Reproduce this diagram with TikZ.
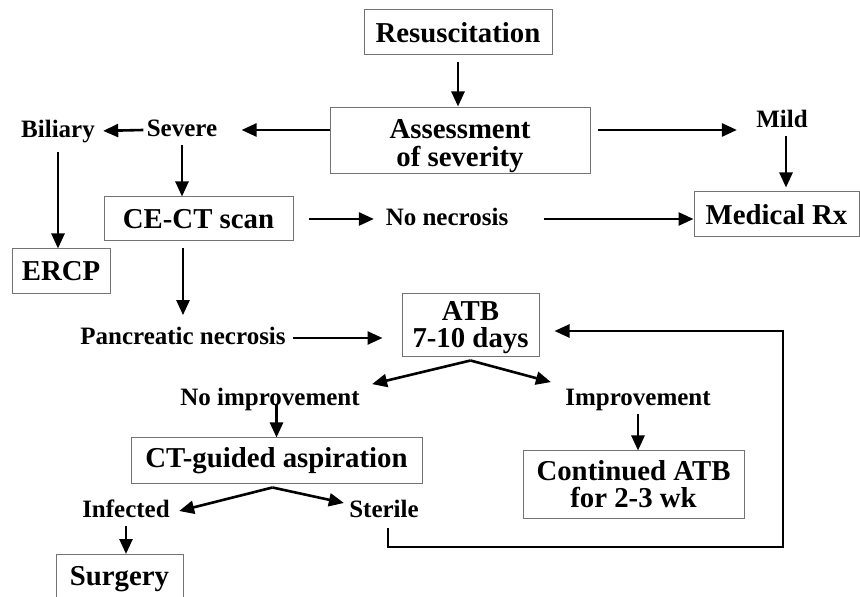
\documentclass[tikz,border=0pt]{standalone}
\usepackage{fontspec}
\setmainfont{Liberation Serif}
\usepackage{tikz}
\usetikzlibrary{arrows.meta,positioning}
\tikzset{>={Triangle[length=7.5pt,width=6.5pt]},
	every join/.style={->}}
\tikzstyle{box}=[draw=black!55, line width=0.5pt, align=center,
inner sep=0pt, font=\fontsize{14.4}{13.6}\selectfont\bfseries]
\tikzstyle{lbl}=[inner sep=1.5pt, text height=9pt, text depth=2.5pt,
font=\fontsize{12.5}{14}\selectfont\bfseries]
\tikzstyle{flow}=[->, line width=1.3pt]
\newcommand{\lift}[1]{\rule{0pt}{#1}}

\begin{document}
\begin{tikzpicture}[x=0.5pt,y=-0.5pt]
	\clip (0,0) rectangle (860,597);
	% boxes
	\node[box, minimum width=94pt, minimum height=22.5pt] (resus) at (458,32.5) {Resuscitation};
	\node[box, minimum width=130pt, minimum height=33pt] (assess) at (460,141) {\lift{14.6pt}Assessment\\of severity};
	\node[box, minimum width=82.5pt, minimum height=22.5pt] (medrx) at (776.5,214.5) {Medical Rx};
	\node[box, minimum width=94.5pt, minimum height=22pt] (cect) at (198.5,219) {CE-CT scan};
	\node[box, minimum width=49pt, minimum height=22.5pt] (ercp) at (61,271.5) {ERCP};
	\node[box, minimum width=68.5pt, minimum height=31.5pt] (atb) at (470.5,325.5) {\lift{11.8pt}ATB\\7-10 days};
	\node[box, minimum width=145.5pt, minimum height=22.5pt] (ctasp) at (276.5,460.5) {CT-guided aspiration};
	\node[box, minimum width=110.5pt, minimum height=33.5pt] (contatb) at (633.5,484.5) {Continued ATB\\for 2-3 wk};
	\node[box, minimum width=63.5pt, minimum height=25pt, anchor=north] (surgery) at (119.5,554) {Surgery};
	% labels
	\node[lbl] (biliary) at (58,131) {Biliary};
	\node[lbl] (severe) at (182,130) {Severe};
	\node[lbl] (mild) at (782,121) {Mild};
	\node[lbl] (nonec) at (447,219) {No necrosis};
	\node[lbl] (pannec) at (183,338) {Pancreatic necrosis};
	\node[lbl] (noimp) at (270,399) {No improvement};
	\node[lbl] (imp) at (638,399) {Improvement};
	\node[lbl] (infected) at (126,511) {Infected};
	\node[lbl] (sterile) at (384,511) {Sterile};
	\coordinate (atbfork) at ([yshift=-1.5pt]atb.south);
	\coordinate (ctfork) at ([shift={(-2pt,-2pt)}]ctasp.south);
	\coordinate (loopcorner) at (783,547);

	% connectors
	\draw[flow, shorten <=3.5pt, shorten >=0.5pt] (resus.south) -- (resus.south |- assess.north);
	\draw[flow] (assess.west |- severe) -- ([xshift=10.5pt]severe.east);
	\draw[flow, shorten >=2.5pt] (severe.west) -- (biliary.east);
	\draw[flow] ([xshift=3.5pt]assess.east |- severe) -- ([xshift=-8pt]mild.west |- severe);
	\draw[flow, shorten >=2pt] ([xshift=2pt]mild.south) -- ([xshift=2pt]mild.south |- medrx.north);
	\draw[flow, shorten <=3pt] (biliary.south) -- (biliary.south |- ercp.north);
	\draw[flow] (severe.south) -- (severe.south |- cect.north);
	\draw[flow, shorten <=7.5pt, shorten >=4.25pt] (cect.east) -- (nonec.west);
	\draw[flow, shorten <=16pt] (nonec.east) -- (medrx.west |- nonec);
	\draw[flow, shorten <=3.5pt, shorten >=4pt] (pannec.north |- cect.south) -- (pannec.north);
	\draw[flow, shorten <=2pt, shorten >=9.5pt] (pannec.east) -- (atb.west |- pannec);
	\draw[flow] (atbfork) -- ([xshift=4.5pt]noimp.north east);
	\draw[flow] (atbfork) -- ([shift={(-5.5pt,1pt)}]imp.north west);
	\draw[flow] (noimp.base -| ctasp.north) -- (ctasp.north);
	\draw[flow] (imp.south) -- (imp.south |- contatb.north);
	\draw[flow] (ctfork) -- ([xshift=3pt]infected.east);
	\draw[flow] (ctfork) -- ([shift={(-1pt,4pt)}]sterile.west);
	\draw[flow] (infected.south) -- (infected.south |- surgery.north);
	\draw[flow] ([shift={(2pt,-1pt)}]sterile.south) |- (loopcorner)
		|- ([shift={(7.5pt,-2.75pt)}]atb.east);
\end{tikzpicture}
\end{document}
